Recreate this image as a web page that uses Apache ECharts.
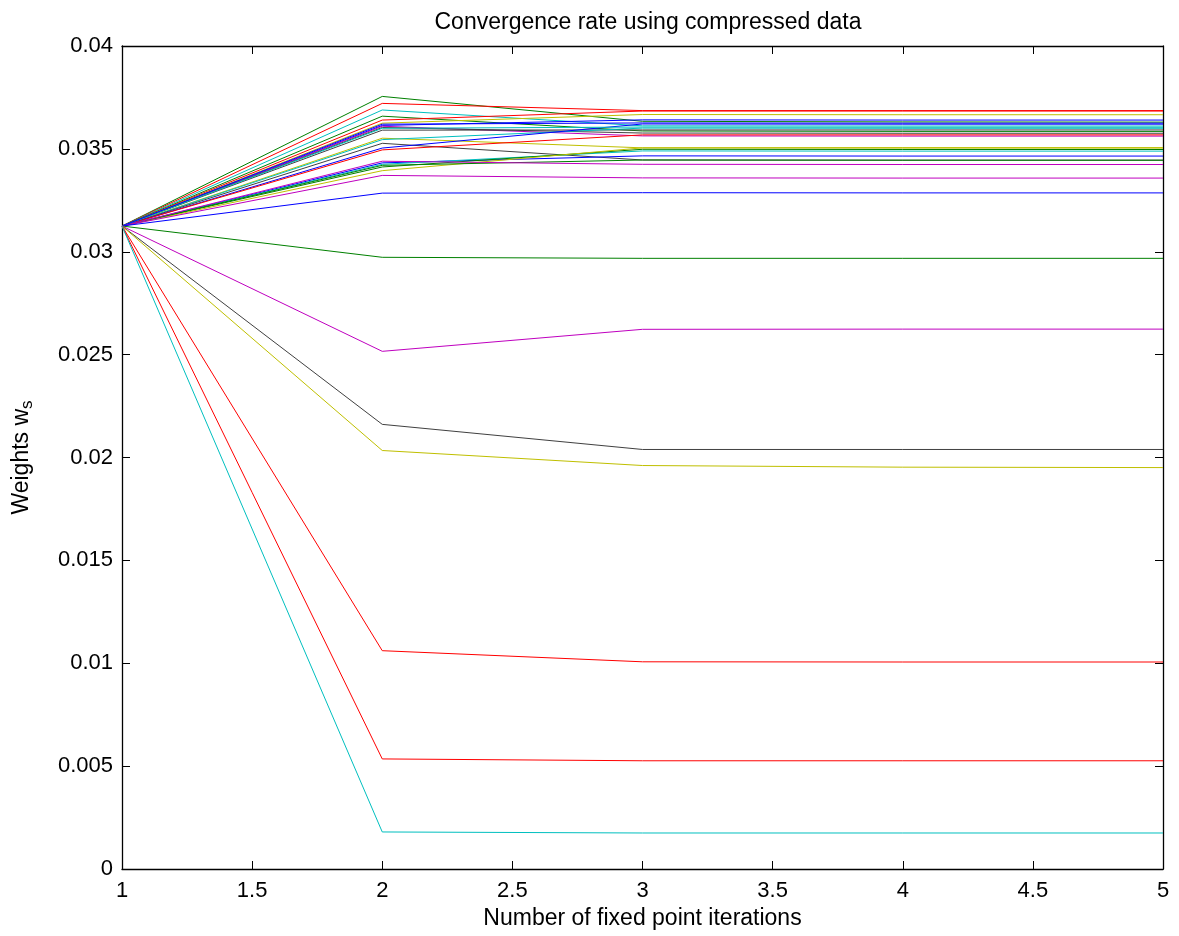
<!DOCTYPE html>
<html>
<head>
<meta charset="utf-8">
<script src="https://cdn.jsdelivr.net/npm/echarts@6/dist/echarts.min.js"></script>
<style>
  html, body { margin: 0; padding: 0; background: #fff; }
  #chart { width: 1179px; height: 936px; }
</style>
</head>
<body>
<div id="chart"></div>
<script>
// fixed point iterations
const iterations = [1, 2, 3, 4, 5];

// one entry per weight (32 weights, start at 1/32)
const lineColors = [
  'g', 'r', 'c', 'g', 'r', 'y', 'b', 'm', 'k', 'k', 'y', 'c', 'k', 'b', 'r', 'b',
  'c', 'g', 'y', 'g', 'm', 'c', 'b', 'm', 'b', 'g', 'm', 'k', 'y', 'r', 'r', 'c'
];
const w1 = new Array(32).fill(0.03125);
const w2 = [
  0.03755, 0.03721, 0.03689, 0.03659, 0.03640, 0.03625, 0.03614, 0.03610,
  0.03604, 0.03591, 0.03552, 0.03545, 0.03527, 0.03504, 0.03495, 0.03432,
  0.03425, 0.03412, 0.03394, 0.03420, 0.03440, 0.03600, 0.03620, 0.03371,
  0.03285, 0.02973, 0.02516, 0.02161, 0.02034, 0.01061, 0.00535, 0.00180
];
const w3 = [
  0.03634, 0.03686, 0.03612, 0.03587, 0.03684, 0.03667, 0.03641, 0.03563,
  0.03577, 0.03592, 0.03505, 0.03601, 0.03446, 0.03621, 0.03568, 0.03466,
  0.03490, 0.03498, 0.03505, 0.03446, 0.03425, 0.03606, 0.03626, 0.03359,
  0.03287, 0.02968, 0.02623, 0.02039, 0.01961, 0.01007, 0.00526, 0.00175
];
const w4 = [
  0.03631, 0.03686, 0.03611, 0.03585, 0.03684, 0.03666, 0.03640, 0.03562,
  0.03576, 0.03592, 0.03504, 0.03600, 0.03445, 0.03620, 0.03568, 0.03465,
  0.03489, 0.03497, 0.03506, 0.03445, 0.03424, 0.03605, 0.03625, 0.03358,
  0.03286, 0.02968, 0.02624, 0.02039, 0.01953, 0.01006, 0.00526, 0.00175
];
const w5 = [
  0.03630, 0.03686, 0.03611, 0.03585, 0.03684, 0.03666, 0.03640, 0.03562,
  0.03576, 0.03592, 0.03504, 0.03600, 0.03445, 0.03620, 0.03568, 0.03465,
  0.03489, 0.03497, 0.03506, 0.03445, 0.03424, 0.03605, 0.03625, 0.03358,
  0.03286, 0.02968, 0.02624, 0.02039, 0.01951, 0.01006, 0.00526, 0.00175
];

const colorMap = {
  b: '#0000ff', g: '#008000', r: '#ff0000', c: '#00bfbf',
  m: '#bf00bf', y: '#bfbf00', k: '#404040'
};
const allIters = [w1, w2, w3, w4, w5];

const FONT = 'Liberation Sans, Arial, Helvetica, sans-serif';
const chart = echarts.init(document.getElementById('chart'));

const series = lineColors.map((c, i) => ({
  type: 'line',
  data: iterations.map((x, k) => [x, allIters[k][i]]),
  showSymbol: false,
  symbol: 'none',
  lineStyle: { width: 1, color: colorMap[c] },
  itemStyle: { color: colorMap[c] },
  z: 3
}));

const tickStyle = { inside: true, length: 8, lineStyle: { color: '#000', width: 1 } };
const lineStyle = { onZero: false, lineStyle: { color: '#000', width: 1.3 } };

chart.setOption({
  animation: false,
  backgroundColor: '#fff',
  title: {
    text: 'Convergence rate using compressed data',
    left: 643, top: 6, textAlign: 'center',
    textStyle: { fontFamily: FONT, fontSize: 23, fontWeight: 'normal', color: '#000' }
  },
  grid: { left: 122, right: 16, top: 46, bottom: 67 },
  xAxis: [{
    type: 'value', min: 1, max: 5, interval: 0.5, position: 'bottom',
    name: 'Number of fixed point iterations', nameLocation: 'middle', nameGap: 36,
    nameTextStyle: { fontFamily: FONT, fontSize: 23, color: '#000' },
    axisLine: lineStyle, axisTick: tickStyle, splitLine: { show: false },
    axisLabel: { fontFamily: FONT, fontSize: 22, color: '#000', margin: 11 }
  }, {
    type: 'value', min: 1, max: 5, interval: 0.5, position: 'top',
    axisLine: lineStyle, axisTick: tickStyle, splitLine: { show: false },
    axisLabel: { show: false }
  }],
  yAxis: [{
    type: 'value', min: 0, max: 0.04, interval: 0.005, position: 'left',
    name: 'Weights w{s|s}', nameLocation: 'middle', nameGap: 86, nameRotate: 90,
    nameTextStyle: {
      fontFamily: FONT, fontSize: 23, color: '#000',
      rich: { s: { fontFamily: FONT, fontSize: 17, color: '#000', padding: [12, 0, 0, 0] } }
    },
    axisLine: lineStyle, axisTick: tickStyle, splitLine: { show: false },
    axisLabel: {
      fontFamily: FONT, fontSize: 22, color: '#000', margin: 9,
      formatter: v => String(+v.toFixed(3))
    }
  }, {
    type: 'value', min: 0, max: 0.04, interval: 0.005, position: 'right',
    axisLine: lineStyle, axisTick: tickStyle, splitLine: { show: false },
    axisLabel: { show: false }
  }],
  series: series
});
</script>
</body>
</html>
